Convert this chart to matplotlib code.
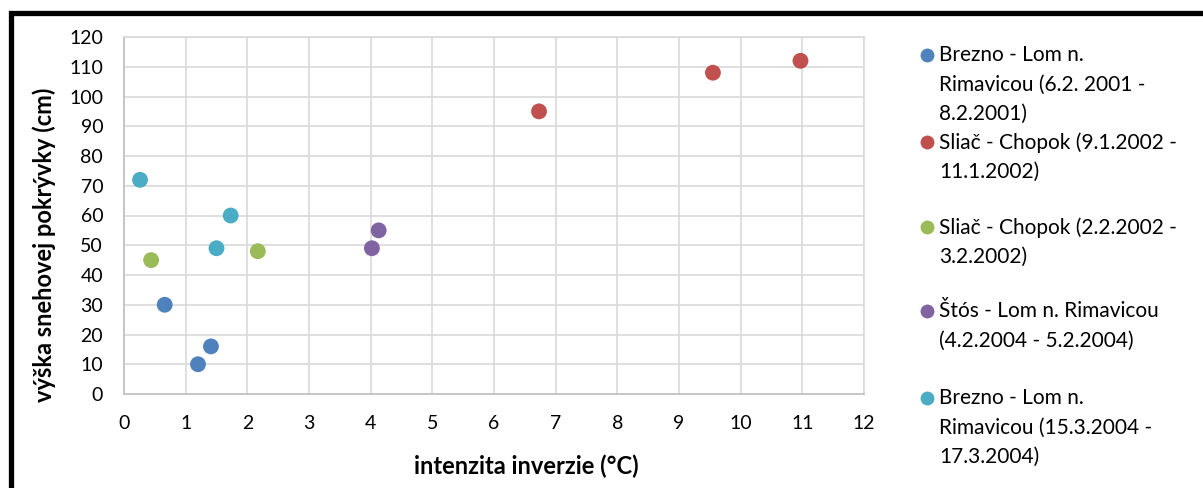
import matplotlib
matplotlib.use('Agg')
import matplotlib.pyplot as plt
from matplotlib.lines import Line2D
from matplotlib.patches import Rectangle

plt.rcParams['font.family'] = ['Lato', 'DejaVu Sans']

# series data
series_names = [
    'Brezno - Lom n.\nRimavicou (6.2. 2001 -\n8.2.2001)',
    'Sliač - Chopok (9.1.2002 -\n11.1.2002)',
    'Sliač - Chopok (2.2.2002 -\n3.2.2002)',
    'Štós - Lom n. Rimavicou\n(4.2.2004 - 5.2.2004)',
    'Brezno - Lom n.\nRimavicou (15.3.2004 -\n17.3.2004)',
]
colors = ['#4F81BD', '#C0504D', '#9BBB59', '#8064A2', '#4BACC6']

brezno_2001_x = [0.66, 1.41, 1.20]
brezno_2001_y = [30, 16, 10]
sliac_jan2002_x = [6.73, 9.55, 10.97]
sliac_jan2002_y = [95, 108, 112]
sliac_feb2002_x = [0.44, 2.17]
sliac_feb2002_y = [45, 48]
stos_2004_x = [4.13, 4.02]
stos_2004_y = [55, 49]
brezno_2004_x = [0.26, 1.73, 1.50]
brezno_2004_y = [72, 60, 49]

xs = [brezno_2001_x, sliac_jan2002_x, sliac_feb2002_x, stos_2004_x, brezno_2004_x]
ys = [brezno_2001_y, sliac_jan2002_y, sliac_feb2002_y, stos_2004_y, brezno_2004_y]

x_ticks = list(range(0, 13))
y_ticks = list(range(0, 121, 10))

W, H = 1203, 488
fig = plt.figure(figsize=(W / 100, H / 100), dpi=100)
ax = fig.add_axes([124 / W, 1 - 394 / H, (864 - 124) / W, (394 - 37) / H])

for x, y, c in zip(xs, ys, colors):
    ax.scatter(x, y, s=130, color=c, edgecolors='none', zorder=3)

ax.set_xlim(0, 12)
ax.set_ylim(0, 120)
ax.set_xticks(x_ticks)
ax.set_yticks(y_ticks)
ax.grid(True, color='#D9D9D9', linewidth=1.2)
ax.set_axisbelow(True)
for s in ax.spines.values():
    s.set_color('#D9D9D9')
    s.set_linewidth(1.2)
ax.spines['left'].set_color('#BFBFBF')
ax.spines['bottom'].set_color('#BFBFBF')
ax.tick_params(length=0, labelsize=14, pad=15, colors='#000000')

ax.set_xlabel('intenzita inverzie (°C)', fontsize=17, fontweight='bold')
ax.set_ylabel('výška snehovej pokrývky (cm)', fontsize=17, fontweight='bold')
# Excel placed the titles a little off centre
ax.xaxis.set_label_coords((526 - 124) / 740, -(455 - 394) / 357)
ax.yaxis.set_label_coords(-(124 - 56) / 740, 1 - (245 - 37) / 357)

# legend drawn by hand so that every entry gets the same slot, like Excel
leg_y = [55, 142, 227, 311, 398]
for name, c, yy in zip(series_names, colors, leg_y):
    fig.add_artist(Line2D([927 / W], [1 - yy / H], marker='o', markersize=10,
                          color=c, markeredgecolor='none', linestyle='none'))
    fig.text(939 / W, 1 - (yy - 10) / H, name, fontsize=15, va='top', ha='left',
             linespacing=1.6)

# thick black frame of the original chart (only top and left visible)
fig.add_artist(Rectangle((10.5 / W, -0.2), 1.5, 1.2 - 12.5 / H, transform=fig.transFigure,
                         fill=False, edgecolor='black', linewidth=3.8))

fig.savefig('out.png', dpi=100)
